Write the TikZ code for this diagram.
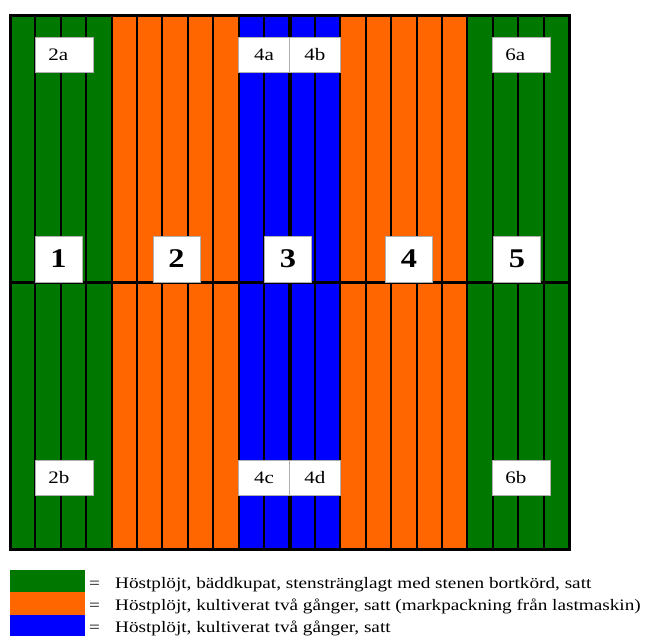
\documentclass[tikz,border=0pt]{standalone}
\usepackage{fontspec}
\setmainfont{Liberation Serif}[FakeStretch=1.2]
\definecolor{fieldgreen}{RGB}{0,120,0}
\definecolor{fieldorange}{RGB}{255,102,0}
\definecolor{fieldblue}{RGB}{0,0,255}
\definecolor{boxedge}{RGB}{175,175,175}
\tikzset{
  stripline/.style={line width=2pt, black},
  plotbox/.style={draw=boxedge, line width=0.9pt, fill=white, inner sep=0pt,
    font=\fontsize{17.5}{19}\selectfont},
  sidelabel/.style={plotbox, minimum height=35pt, text width=32pt, align=left,
    inner xsep=13pt, anchor=north west},
  midlabel/.style={plotbox, minimum height=35pt, minimum width=51pt, anchor=north west},
  blocknum/.style={plotbox, minimum width=47pt, minimum height=46pt,
    font=\fontsize{27}{30}\selectfont\bfseries},
  keybox/.style={minimum width=75pt, minimum height=23pt, inner sep=0pt, anchor=north west},
  keytext/.style={anchor=base west, inner sep=0pt, font=\fontsize{16}{18}\selectfont}
}
\begin{document}
\begin{tikzpicture}[x=1pt, y=-1pt]
\useasboundingbox (0,0) rectangle (647,635);
% strip groups: 4 green, 5 orange, 4 blue, 5 orange, 4 green (strip width 25.409)
\fill[fieldgreen]  (10,15)     rectangle (111.64,549);
\fill[fieldorange] (111.64,15) rectangle (238.68,549);
\fill[fieldblue]   (238.68,15) rectangle (340.32,549);
\fill[fieldorange] (340.32,15) rectangle (467.36,549);
\fill[fieldgreen]  (467.36,15) rectangle (569,549);
% strip separators
\foreach \k in {1,...,21}
  \draw[stripline] ({10+\k*25.409},15) -- ({10+\k*25.409},549);
\draw[line width=4pt] (289.5,15) -- (289.5,549);
% middle divide and outer frame
\draw[line width=3pt] (10,282) -- (569,282);
\draw[line width=3pt] (10,15) rectangle (569,549);
% plot labels, upper half
\node[sidelabel] (p2a) at (35,37) {2a};
\node[midlabel]  (p4a) at (238,37) {4a};
\node[midlabel]  (p4b) at (289,37) {4b};
\node[sidelabel] (p6a) at (492,37) {6a};
% plot labels, lower half
\node[sidelabel] (p2b) at (35,460) {2b};
\node[midlabel]  (p4c) at (238,460) {4c};
\node[midlabel]  (p4d) at (289,460) {4d};
\node[sidelabel] (p6b) at (492,460) {6b};
% block numbers on the middle line
\node[blocknum] (b1) at (58.5,259) {1};
\node[blocknum] (b2) at (176.5,259) {2};
\node[blocknum] (b3) at (288,259) {3};
\node[blocknum] (b4) at (409,259) {4};
\node[blocknum] (b5) at (517,259) {5};
% key
\node[keybox, fill=fieldgreen]  (kg) at (10,570) {};
\node[keybox, fill=fieldorange] (ko) at (10,592) {};
\node[keybox, fill=fieldblue]   (kb) at (10,615) {};
\node[keytext] (eg) at (89,588) {=};
\node[keytext] (eo) at (89,610) {=};
\node[keytext] (eb) at (89,632) {=};
\node[keytext] (tg) at (115,588) {Höstplöjt, bäddkupat, stensträngl{}agt med stenen bortkörd, satt};
\node[keytext] (to) at (115,610) {Höstplöjt, kultiverat två gånger, satt (markpackning från lastmaskin)};
\node[keytext] (tb) at (115,632) {Höstplöjt, kultiverat två gånger, satt};
\end{tikzpicture}
\end{document}
